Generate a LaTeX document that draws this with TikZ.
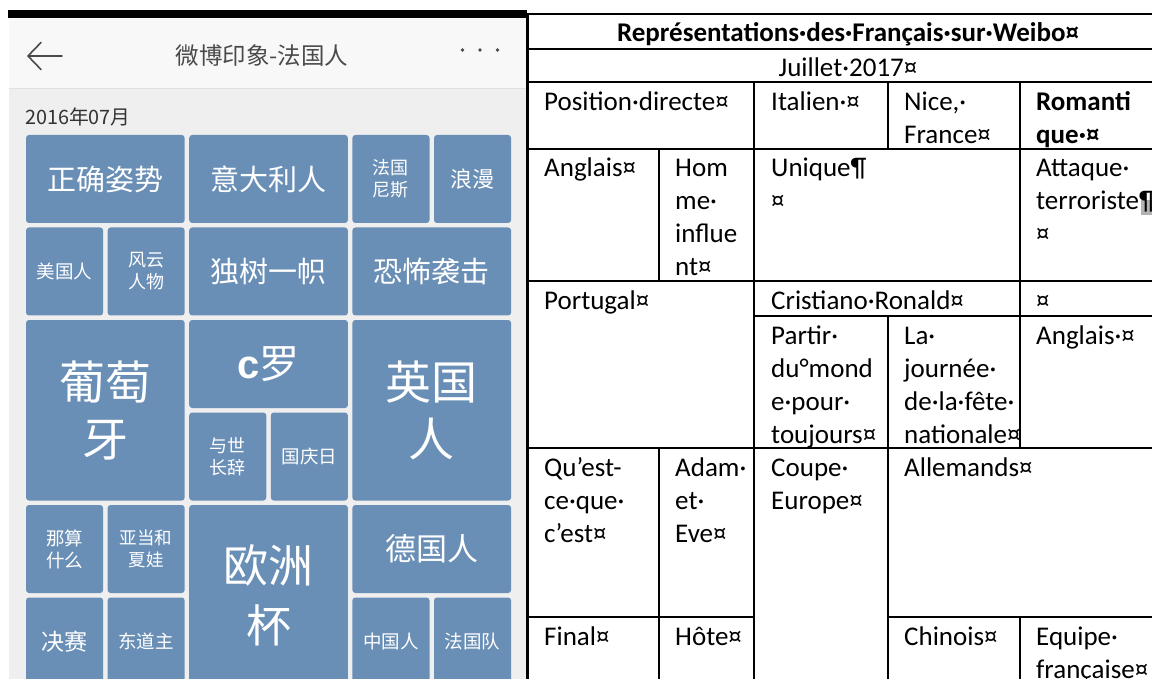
\documentclass[tikz,border=0pt]{standalone}
\usepackage{fontspec}
\setmainfont{Carlito}
\newfontfamily\cjk{Noto Sans CJK SC}
\newfontfamily\carl{Carlito}
\newfontfamily\arsans{Liberation Sans}
\definecolor{tilec}{HTML}{6A8FB6}
\definecolor{bodybg}{HTML}{EFEFEF}
\definecolor{headbg}{HTML}{F8F8F8}
\definecolor{headtxt}{HTML}{4A4A4A}
\newcommand\tl[7]{%
  \fill[tilefill] (#1,#2) rectangle (#3,#4);
  \node[tiletext, font={\cjk\fontsize{#5}{#6}\selectfont}] at ({(#1+#3)/2},{(#2+#4)/2}) {#7};}
\newcommand\tc[3]{%
  \foreach \lin [count=\i from 0] in {#3} {\node[tabtext, anchor=base west] at (#1,{#2+\i*33}) {\lin};}}
\newcommand\tcb[3]{%
  \foreach \lin [count=\i from 0] in {#3} {\node[tabtext, font=\carl\bfseries\fontsize{27}{33}\selectfont, anchor=base west] at (#1,{#2+\i*33}) {\lin};}}
\begin{document}
\begin{tikzpicture}[x=1pt,y=-1pt,
  tilefill/.style={fill=tilec, rounded corners=3pt},
  tiletext/.style={text=white, align=center, inner sep=0pt},
  tabtext/.style={text=black, inner sep=0pt, font=\carl\fontsize{27}{33}\selectfont},
  tline/.style={line width=1.4pt, black},
  hdr/.style={text=headtxt, inner sep=0pt}]
\useasboundingbox (0,0) rectangle (1152,679);
\clip (0,0) rectangle (1152,679);
\fill[white] (0,0) rectangle (1152,679);
% ---------- left panel ----------
\fill[bodybg] (9,18) rectangle (527,679);
\fill[headbg] (9,18) rectangle (527,88);
\draw[line width=0.8pt, black!12] (9,88) -- (527,88);
\fill[black] (8,10) rectangle (527,18.5);
% back arrow
\draw[headtxt, line width=1.6pt, line cap=round, line join=round]
  (41,42.5) -- (28,56) -- (41,69.5) (28,56) -- (62,56);
\node[hdr, font=\cjk\fontsize{23.5}{27}\selectfont] (title) at (262,56) {微博印象-法国人};
\foreach \dx in {462.5,480,497.5} \fill[headtxt] (\dx,50) circle (1.9);
\node[hdr, anchor=west, text=black!80, font=\cjk\fontsize{19.8}{23}\selectfont] (date) at (25,116.5) {2016年07月};
% tiles
\tl{26}{135}{184.7}{223}{29}{34}{正确姿势}
\tl{189.2}{135}{347.9}{223}{29}{34}{意大利人}
\tl{352.4}{135}{429.5}{223}{18}{22}{法国\\尼斯}
\tl{434}{135}{511.1}{223}{22}{26}{浪漫}
\tl{26}{227.5}{103.1}{315.5}{18.5}{22}{美国人}
\tl{107.6}{227.5}{184.7}{315.5}{18}{22}{风云\\人物}
\tl{189.2}{227.5}{347.9}{315.5}{29}{34}{独树一帜}
\tl{352.4}{227.5}{511.1}{315.5}{29}{34}{恐怖袭击}
\tl{26}{320}{184.7}{500.5}{46}{57}{葡萄\\牙}
\tl{189.2}{320}{347.9}{408}{40}{46}{{\arsans\bfseries c}罗}
\tl{189.2}{412.5}{266.3}{500.5}{18}{22}{与世\\长辞}
\tl{270.8}{412.5}{347.9}{500.5}{18.5}{22}{国庆日}
\tl{352.4}{320}{511.1}{500.5}{46}{57}{英国\\人}
\tl{26}{505}{103.1}{593}{18.5}{22}{那算\\什么}
\tl{107.6}{505}{184.7}{593}{17.5}{22}{亚当和\\夏娃}
\tl{189.2}{505}{347.9}{685.5}{45}{60}{欧洲\\杯}
\tl{352.4}{505}{511.1}{593}{31}{36}{德国人}
\tl{26}{597.5}{103.1}{685.5}{23}{27}{决赛}
\tl{107.6}{597.5}{184.7}{685.5}{18.5}{22}{东道主}
\tl{352.4}{597.5}{429.5}{685.5}{18.5}{22}{中国人}
\tl{434}{597.5}{511.1}{685.5}{18.5}{22}{法国队}
% ---------- right panel: table ----------
\draw[tline] (527,14) -- (1153,14);
\draw[tline] (527,49) -- (1153,49);
\draw[tline] (527,82) -- (1153,82);
\draw[tline] (527,149) -- (1153,149);
\draw[tline] (527,281) -- (1153,281);
\draw[tline] (754,316) -- (1153,316);
\draw[tline] (527,448) -- (1153,448);
\draw[tline] (527,617) -- (754,617) (888,617) -- (1153,617);
\draw[line width=2.2pt] (527.5,13.3) -- (527.5,680);
\draw[tline] (659,149) -- (659,281) (659,448) -- (659,680);
\draw[tline] (754,82) -- (754,680);
\draw[tline] (888,82) -- (888,149) (888,316) -- (888,680);
\draw[tline] (1020,82) -- (1020,448) (1020,617) -- (1020,680);
% table text
\node[tabtext, font=\carl\bfseries\fontsize{27}{33}\selectfont, anchor=base] (ttitle) at (848,42) {Représentations·des·Français·sur·Weibo¤};
\node[tabtext, anchor=base] (tdate) at (848,77) {Juillet·2017¤};
\tc{544}{111}{Position·directe¤}
\tc{771}{111}{Italien·¤}
\tc{904}{111}{{Nice,·},France¤}
\tcb{1036}{111}{Romanti,que·¤}
\tc{544}{177}{Anglais¤}
\tc{675}{177}{Hom,me·,influe,nt¤}
\tc{771}{177}{Unique¶,¤}
\fill[black!30] (1141,200) rectangle (1153,215);
\tc{1036}{177}{Attaque·,terroriste¶,¤}
\tc{544}{309}{Portugal¤}
\tc{771}{309}{Cristiano·Ronald¤}
\tc{1036}{309}{¤}
\tc{771}{344}{Partir·,du°mond,e·pour·,toujours¤}
\tc{904}{344}{La·,journée·,de·la·fête·,nationale¤}
\tc{1036}{344}{Anglais·¤}
\tc{544}{476}{Qu’est-,ce·que·,c’est¤}
\tc{675}{476}{Adam·,et·,Eve¤}
\tc{771}{476}{Coupe·,Europe¤}
\tc{904}{476}{Allemands¤}
\tc{544}{645}{Final¤}
\tc{675}{645}{Hôte¤}
\tc{904}{645}{Chinois¤}
\tc{1036}{645}{Equipe·,française¤}
\end{tikzpicture}
\end{document}
